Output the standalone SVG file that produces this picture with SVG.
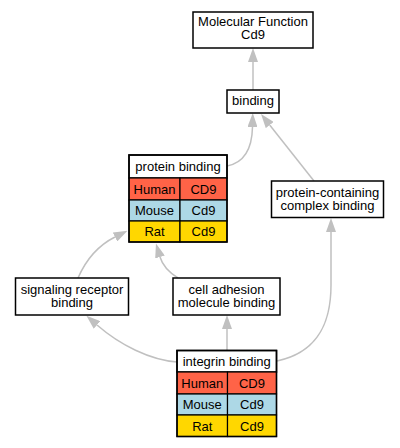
<svg xmlns="http://www.w3.org/2000/svg" width="400" height="448" viewBox="0 0 400 448">
<style>
.box{fill:#ffffff;stroke:#000000;stroke-width:1.5}
.cell{stroke:#000000;stroke-width:1.2}
.hu{fill:#ff6347}
.mo{fill:#add8e6}
.ra{fill:#ffd700}
text{font-family:"Liberation Sans",Arial,sans-serif;font-size:13px;fill:#000000;text-anchor:middle}
.edge{fill:none;stroke:#c0c0c0;stroke-width:1.5;marker-end:url(#arr)}
</style>
<defs>
<marker id="arr" viewBox="0 0 14 10" refX="0" refY="5" markerWidth="14" markerHeight="10" markerUnits="userSpaceOnUse" orient="auto">
<path d="M0,0 L14,5 L0,10 z" fill="#c0c0c0"/>
</marker>
</defs>
<g id="edges">
<path class="edge" d="M253,90 L253,62"/>
<path class="edge" d="M227,166 C243,163 252,150 252.5,127"/>
<path class="edge" d="M314,181 L269.7,125"/>
<path class="edge" d="M78,278 C85,262 95,247 115,237"/>
<path class="edge" d="M178,278 C170,273 163,267 160,257"/>
<path class="edge" d="M177,362 C150,360 120,345 97,325"/>
<path class="edge" d="M227,350 L227,329"/>
<path class="edge" d="M277,361 C320,352 331,320 331,285 L331,232"/>
</g>
<g id="molecular-function">
<rect class="box" x="193" y="12" width="120" height="36"/>
<text x="253" y="26">Molecular Function</text>
<text x="253" y="39">Cd9</text>
</g>
<g id="binding">
<rect class="box" x="227" y="90" width="52" height="23"/>
<text x="253" y="105">binding</text>
</g>
<g id="protein-binding">
<rect class="box" x="129" y="155" width="98" height="23"/>
<rect class="cell hu" x="129" y="178" width="51" height="22"/>
<rect class="cell hu" x="180" y="178" width="47" height="22"/>
<rect class="cell mo" x="129" y="200" width="51" height="21"/>
<rect class="cell mo" x="180" y="200" width="47" height="21"/>
<rect class="cell ra" x="129" y="221" width="51" height="21"/>
<rect class="cell ra" x="180" y="221" width="47" height="21"/>
<rect x="129" y="155" width="98" height="87" fill="none" stroke="#000" stroke-width="1.5"/>
<text x="178" y="171">protein binding</text>
<text x="154.5" y="193.5">Human</text>
<text x="203.5" y="193.5">CD9</text>
<text x="154.5" y="215">Mouse</text>
<text x="203.5" y="215">Cd9</text>
<text x="154.5" y="236">Rat</text>
<text x="203.5" y="236">Cd9</text>
</g>
<g id="protein-containing-complex-binding">
<rect class="box" x="271.5" y="181" width="112" height="36.5"/>
<text x="327.5" y="196.5">protein-containing</text>
<text x="327.5" y="209.5">complex binding</text>
</g>
<g id="signaling-receptor-binding">
<rect class="box" x="15.5" y="278" width="113" height="37"/>
<text x="72" y="294">signaling receptor</text>
<text x="72" y="306.5">binding</text>
</g>
<g id="cell-adhesion-molecule-binding">
<rect class="box" x="173" y="278" width="107" height="37"/>
<text x="226.5" y="294">cell adhesion</text>
<text x="226.5" y="306.5">molecule binding</text>
</g>
<g id="integrin-binding">
<rect class="box" x="177" y="350.5" width="99.5" height="21.5"/>
<rect class="cell hu" x="177" y="372" width="50.5" height="22"/>
<rect class="cell hu" x="227.5" y="372" width="49" height="22"/>
<rect class="cell mo" x="177" y="394" width="50.5" height="21"/>
<rect class="cell mo" x="227.5" y="394" width="49" height="21"/>
<rect class="cell ra" x="177" y="415" width="50.5" height="21.5"/>
<rect class="cell ra" x="227.5" y="415" width="49" height="21.5"/>
<rect x="177" y="350.5" width="99.5" height="86" fill="none" stroke="#000" stroke-width="1.5"/>
<text x="226.75" y="366">integrin binding</text>
<text x="202.25" y="387.5">Human</text>
<text x="252" y="387.5">CD9</text>
<text x="202.25" y="409">Mouse</text>
<text x="252" y="409">Cd9</text>
<text x="202.25" y="430.5">Rat</text>
<text x="252" y="430.5">Cd9</text>
</g>
</svg>
